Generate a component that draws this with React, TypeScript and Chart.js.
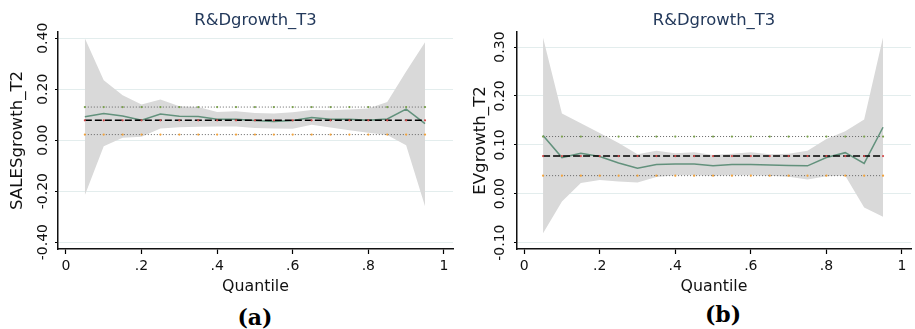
import React, { useEffect, useRef } from "react";
import { Chart, registerables } from "chart.js";

Chart.register(...registerables);

const FONT = "'DejaVu Sans', 'Liberation Sans', Arial, sans-serif";
const TITLE_COLOR = "#23395b";
const GRID_COLOR = "#e3eded";
const BAND_COLOR = "#d9d9d9";
const LINE_COLOR = "#62917c";

const chartTitle = "R&Dgrowth_T3";
const xTitle = "Quantile";
const quantiles = [0.05, 0.1, 0.15, 0.2, 0.25, 0.3, 0.35, 0.4, 0.45, 0.5, 0.55, 0.6, 0.65, 0.7, 0.75, 0.8, 0.85, 0.9, 0.95];
const xTickValues = [0, 0.2, 0.4, 0.6, 0.8, 1];
const xTickLabels = ["0", ".2", ".4", ".6", ".8", "1"];

// Panel (a): SALESgrowth_T2
const yTitleA = "SALESgrowth_T2";
const coefA = [0.092, 0.105, 0.095, 0.078, 0.103, 0.094, 0.093, 0.082, 0.082, 0.077, 0.073, 0.077, 0.089, 0.082, 0.082, 0.078, 0.083, 0.122, 0.065];
const upperA = [0.4, 0.235, 0.176, 0.14, 0.16, 0.133, 0.13, 0.111, 0.114, 0.107, 0.105, 0.11, 0.118, 0.117, 0.12, 0.124, 0.15, 0.27, 0.384];
const lowerA = [-0.216, -0.024, 0.01, 0.013, 0.046, 0.051, 0.053, 0.054, 0.054, 0.048, 0.046, 0.045, 0.061, 0.05, 0.039, 0.029, 0.02, -0.02, -0.259];
const olsCoefA = 0.078;
const olsLowA = 0.022;
const olsHighA = 0.13;
const yTickValuesA = [-0.4, -0.2, 0, 0.2, 0.4];
const yTickLabelsA = ["-0.40", "-0.20", "0.00", "0.20", "0.40"];

// Panel (b): EVgrowth_T2
const yTitleB = "EVgrowth_T2";
const coefB = [0.119, 0.074, 0.083, 0.076, 0.063, 0.052, 0.06, 0.061, 0.061, 0.057, 0.06, 0.06, 0.059, 0.058, 0.057, 0.074, 0.084, 0.062, 0.136];
const upperB = [0.319, 0.164, 0.144, 0.124, 0.104, 0.081, 0.088, 0.083, 0.085, 0.079, 0.082, 0.085, 0.081, 0.082, 0.088, 0.112, 0.128, 0.152, 0.32];
const lowerB = [-0.081, -0.016, 0.022, 0.028, 0.025, 0.023, 0.034, 0.038, 0.038, 0.037, 0.038, 0.038, 0.037, 0.035, 0.029, 0.036, 0.037, -0.028, -0.047];
const olsCoefB = 0.077;
const olsLowB = 0.037;
const olsHighB = 0.117;
const yTickValuesB = [-0.1, 0, 0.1, 0.2, 0.3];
const yTickLabelsB = ["-0.10", "0.00", "0.10", "0.20", "0.30"];

const rotatedYTicks = {
  id: "rotatedYTicks",
  afterDraw(chart: any, _args: any, opts: any) {
    const scale = chart.scales.y;
    const ctx = chart.ctx;
    ctx.save();
    ctx.font = `${opts.size}px ${FONT}`;
    ctx.fillStyle = opts.color;
    ctx.textAlign = "center";
    ctx.textBaseline = "middle";
    scale.ticks.forEach((t: any, i: number) => {
      const y = scale.getPixelForValue(t.value);
      ctx.save();
      ctx.translate(opts.x, y);
      ctx.rotate(-Math.PI / 2);
      ctx.fillText(opts.labels[i], 0, 0);
      ctx.restore();
    });
    ctx.restore();
  },
};

type PanelProps = {
  width: number;
  height: number;
  rightPad: number;
  yAxisWidth: number;
  yTitlePad: number;
  tickLabelX: number;
  xMin: number;
  xMax: number;
  yMin: number;
  yMax: number;
  yTitle: string;
  yTicks: number[];
  yTickLabels: string[];
  coef: number[];
  upper: number[];
  lower: number[];
  olsCoef: number;
  olsLow: number;
  olsHigh: number;
};

function Panel(p: PanelProps) {
  const ref = useRef<HTMLCanvasElement | null>(null);
  useEffect(() => {
    if (!ref.current) return;
    const pts = (vals: number[]) => quantiles.map((q, i) => ({ x: q, y: vals[i] }));
    const flat = (v: number) => quantiles.map((q) => ({ x: q, y: v }));
    const chart = new Chart(ref.current, {
      type: "line",
      data: {
        datasets: [
          {
            data: flat(p.olsCoef),
            borderColor: "#000",
            borderWidth: 1.5,
            borderDash: [7, 3],
            pointRadius: 1.1,
            pointBorderWidth: 0,
            pointBackgroundColor: "#d24a4a",
            fill: false,
          },
          {
            data: flat(p.olsHigh),
            borderColor: "#666",
            borderWidth: 1,
            borderDash: [1, 2],
            pointRadius: 1.1,
            pointBorderWidth: 0,
            pointBackgroundColor: "#79a04a",
            fill: false,
          },
          {
            data: flat(p.olsLow),
            borderColor: "#666",
            borderWidth: 1,
            borderDash: [1, 2],
            pointRadius: 1.1,
            pointBorderWidth: 0,
            pointBackgroundColor: "#f2a23a",
            fill: false,
          },
          {
            data: pts(p.coef),
            borderColor: LINE_COLOR,
            borderWidth: 1.5,
            pointRadius: 0,
            fill: false,
          },
          {
            data: pts(p.upper),
            borderWidth: 0,
            borderColor: "rgba(0,0,0,0)",
            backgroundColor: BAND_COLOR,
            pointRadius: 0,
            fill: "+1",
          },
          {
            data: pts(p.lower),
            borderWidth: 0,
            borderColor: "rgba(0,0,0,0)",
            pointRadius: 0,
            fill: false,
          },
        ],
      },
      options: {
        animation: false,
        responsive: false,
        devicePixelRatio: 1,
        events: [],
        elements: { line: { tension: 0 } },
        layout: { padding: { left: 0, right: p.rightPad, top: 0, bottom: 0 } },
        plugins: {
          legend: { display: false },
          tooltip: { enabled: false },
          title: {
            display: true,
            text: chartTitle,
            fullSize: false,
            color: TITLE_COLOR,
            font: { family: FONT, size: 16.4, weight: "normal", lineHeight: 1.2 },
            padding: { top: 11.2, bottom: 1 },
          },
          rotatedYTicks: { x: p.tickLabelX, size: 14, color: "#111", labels: p.yTickLabels },
        } as any,
        scales: {
          x: {
            type: "linear",
            min: p.xMin,
            max: p.xMax,
            afterBuildTicks: (s: any) => {
              s.ticks = xTickValues.map((v) => ({ value: v }));
            },
            afterFit: (s: any) => {
              s.height = 51;
            },
            ticks: {
              callback: (_v: any, i: number) => xTickLabels[i],
              font: { family: FONT, size: 14 },
              color: "#111",
              padding: 4,
              maxRotation: 0,
              autoSkip: false,
            },
            grid: { drawOnChartArea: false, drawTicks: true, tickLength: 5, tickColor: "#000", tickWidth: 1.2 },
            border: { display: true, color: "#111", width: 1.5 },
            title: {
              display: true,
              text: xTitle,
              color: "#111",
              font: { family: FONT, size: 15.8, lineHeight: 1.2 },
              padding: { top: 0, bottom: 3.2 },
            },
          },
          y: {
            type: "linear",
            min: p.yMin,
            max: p.yMax,
            afterBuildTicks: (s: any) => {
              s.ticks = p.yTicks.map((v) => ({ value: v }));
            },
            afterFit: (s: any) => {
              s.width = p.yAxisWidth;
            },
            ticks: { display: false },
            grid: { color: GRID_COLOR, lineWidth: 1, drawTicks: true, tickLength: 3, tickColor: "#000", tickWidth: 1.2 },
            border: { display: true, color: "#111", width: 1.5 },
            title: {
              display: true,
              text: p.yTitle,
              color: "#111",
              font: { family: FONT, size: 16.6, lineHeight: 1.2 },
              padding: { top: p.yTitlePad, bottom: 0 },
            },
          },
        },
      } as any,
      plugins: [rotatedYTicks as any],
    });
    return () => chart.destroy();
  }, []);
  return <canvas ref={ref} width={p.width} height={p.height} style={{ display: "block", width: p.width, height: p.height }} />;
}

export default function App() {
  return (
    <div style={{ position: "absolute", left: 0, top: 0, width: 915, height: 329, background: "#fff", overflow: "hidden" }}>
      <div style={{ position: "absolute", left: 0, top: 0 }}>
        <Panel
          width={457}
          height={300}
          rightPad={2}
          yAxisWidth={58}
          yTitlePad={7.5}
          tickLabelX={43.5}
          xMin={-0.021}
          xMax={1.024}
          yMin={-0.427}
          yMax={0.425}
          yTitle={yTitleA}
          yTicks={yTickValuesA}
          yTickLabels={yTickLabelsA}
          coef={coefA}
          upper={upperA}
          lower={lowerA}
          olsCoef={olsCoefA}
          olsLow={olsLowA}
          olsHigh={olsHighA}
        />
      </div>
      <div style={{ position: "absolute", left: 457, top: 0 }}>
        <Panel
          width={458}
          height={300}
          rightPad={0}
          yAxisWidth={60}
          yTitlePad={14}
          tickLabelX={43}
          xMin={-0.019}
          xMax={1.024}
          yMin={-0.113}
          yMax={0.331}
          yTitle={yTitleB}
          yTicks={yTickValuesB}
          yTickLabels={yTickLabelsB}
          coef={coefB}
          upper={upperB}
          lower={lowerB}
          olsCoef={olsCoefB}
          olsLow={olsLowB}
          olsHigh={olsHighB}
        />
      </div>
      <div
        style={{
          position: "absolute",
          left: 205,
          top: 305,
          width: 100,
          textAlign: "center",
          fontFamily: "'DejaVu Serif', 'Liberation Serif', serif",
          fontWeight: "bold",
          fontSize: 22,
          lineHeight: "24px",
          color: "#000",
        }}
      >
        (a)
      </div>
      <div
        style={{
          position: "absolute",
          left: 673,
          top: 302,
          width: 100,
          textAlign: "center",
          fontFamily: "'DejaVu Serif', 'Liberation Serif', serif",
          fontWeight: "bold",
          fontSize: 22,
          lineHeight: "24px",
          color: "#000",
        }}
      >
        (b)
      </div>
    </div>
  );
}
